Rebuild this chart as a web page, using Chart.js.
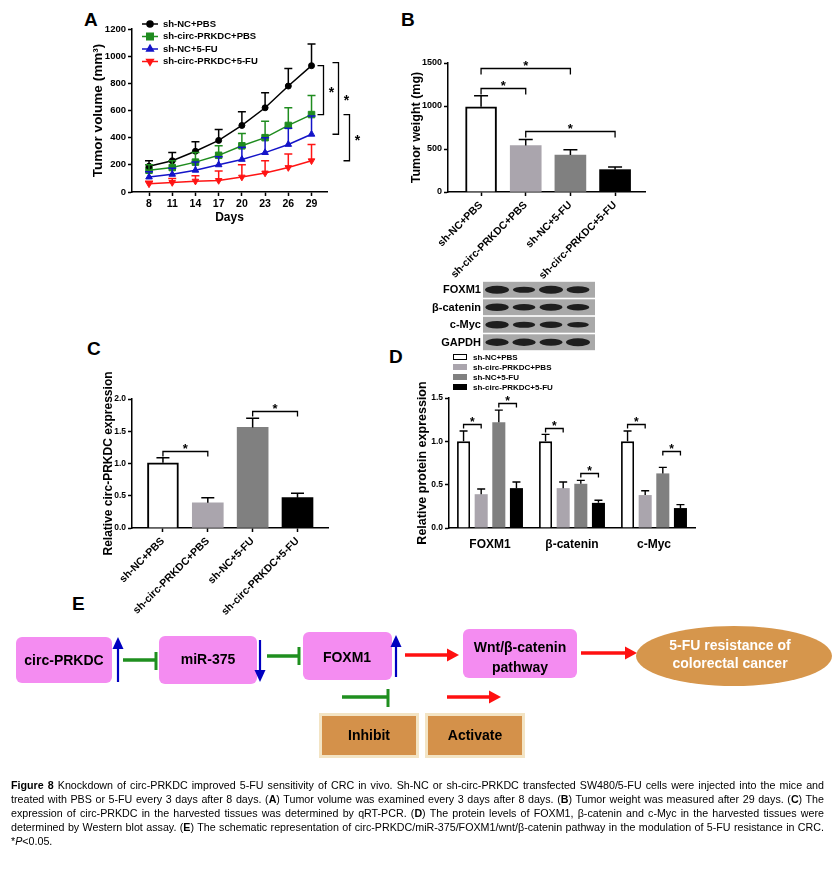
<!DOCTYPE html>
<html><head><meta charset="utf-8">
<script src="https://cdn.jsdelivr.net/npm/chart.js@4.4.1/dist/chart.umd.min.js"></script>
<style>
html,body{margin:0;padding:0;background:#fff}
body{width:833px;height:880px;position:relative;overflow:hidden;font-family:"Liberation Sans",Arial,Helvetica,sans-serif;color:#000}
.box{position:absolute}
.letter{position:absolute;font-weight:bold;font-size:19px;line-height:19px}
.blotlab{position:absolute;right:352px;font-weight:bold;font-size:11px;line-height:12px;text-align:right;white-space:nowrap}
.legD{position:absolute;left:453px;font-weight:bold;font-size:8px;line-height:10px;white-space:nowrap}
.legD .sw{display:inline-block;width:14px;height:6px;vertical-align:middle;margin-right:6px;box-sizing:border-box;position:relative;top:-1px}
#caption{position:absolute;left:11px;top:778px;width:813px;line-height:14px;font-family:"Liberation Sans Narrow","Arial Narrow","Liberation Sans",Arial,sans-serif}
#caption div{text-align:justify;text-align-last:justify}
</style></head>
<body>
<div class="letter" style="left:84px;top:10px">A</div>
<div class="letter" style="left:401px;top:10px">B</div>
<div class="letter" style="left:87px;top:339px">C</div>
<div class="letter" style="left:389px;top:347px">D</div>
<div class="letter" style="left:72px;top:594px">E</div>

<div class="box" style="left:90px;top:0;width:290px;height:232px"><canvas id="cA"></canvas></div>
<div class="box" style="left:409px;top:40px;width:260px;height:245px"><canvas id="cB"></canvas></div>
<div class="box" style="left:101px;top:360px;width:250px;height:260px"><canvas id="cC"></canvas></div>
<div class="box" style="left:415px;top:375px;width:300px;height:180px"><canvas id="cD"></canvas></div>
<div class="box" style="left:483px;top:281px;width:112px;height:70px"><canvas id="cBlot"></canvas></div>

<div class="blotlab" style="top:283px">FOXM1</div>
<div class="blotlab" style="top:301px">β-catenin</div>
<div class="blotlab" style="top:318px">c-Myc</div>
<div class="blotlab" style="top:336px">GAPDH</div>

<div id="legendD"></div>

<svg class="box" style="left:0;top:590px" width="833" height="180" viewBox="0 0 833 180" font-family="Liberation Sans, Arial, Helvetica, sans-serif" font-weight="bold" font-size="14">
  <rect x="16" y="47" width="96" height="46" rx="6" fill="#f48cf1"/>
  <text x="64" y="70" text-anchor="middle" dominant-baseline="central">circ-PRKDC</text>
  <line x1="118" y1="57" x2="118" y2="92" stroke="#0000c0" stroke-width="2.2"/>
  <polygon points="118,47 112.5,59 123.5,59" fill="#0000c0"/>
  <line x1="123" y1="70" x2="156" y2="70" stroke="#1f8f1f" stroke-width="3.5"/>
  <line x1="156" y1="62" x2="156" y2="80" stroke="#1f8f1f" stroke-width="3"/>

  <rect x="159" y="46" width="98" height="48" rx="6" fill="#f48cf1"/>
  <text x="208" y="69" text-anchor="middle" dominant-baseline="central">miR-375</text>
  <line x1="260" y1="50" x2="260" y2="82" stroke="#0000c0" stroke-width="2.2"/>
  <polygon points="260,92 254.5,80 265.5,80" fill="#0000c0"/>
  <line x1="267" y1="66" x2="299" y2="66" stroke="#1f8f1f" stroke-width="3.5"/>
  <line x1="299" y1="57" x2="299" y2="75" stroke="#1f8f1f" stroke-width="3"/>

  <rect x="303" y="42" width="89" height="48" rx="6" fill="#f48cf1"/>
  <text x="347" y="67" text-anchor="middle" dominant-baseline="central">FOXM1</text>
  <line x1="396" y1="55" x2="396" y2="87" stroke="#0000c0" stroke-width="2.2"/>
  <polygon points="396,45 390.5,57 401.5,57" fill="#0000c0"/>
  <line x1="405" y1="65" x2="449" y2="65" stroke="#ff1010" stroke-width="3.5"/>
  <polygon points="459,65 447,58.5 447,71.5" fill="#ff1010"/>

  <rect x="463" y="39" width="114" height="49" rx="6" fill="#f48cf1"/>
  <text x="520" y="57" text-anchor="middle" dominant-baseline="central">Wnt/β-catenin</text>
  <text x="520" y="77" text-anchor="middle" dominant-baseline="central">pathway</text>
  <line x1="581" y1="63" x2="627" y2="63" stroke="#ff1010" stroke-width="3.5"/>
  <polygon points="637,63 625,56.5 625,69.5" fill="#ff1010"/>

  <ellipse cx="734" cy="66" rx="98" ry="30" fill="#d6964c"/>
  <text x="730" y="55" text-anchor="middle" dominant-baseline="central" fill="#fff">5-FU resistance of</text>
  <text x="730" y="73" text-anchor="middle" dominant-baseline="central" fill="#fff">colorectal cancer</text>

  <line x1="342" y1="107" x2="388" y2="107" stroke="#1f8f1f" stroke-width="3.5"/>
  <line x1="388" y1="99" x2="388" y2="117" stroke="#1f8f1f" stroke-width="3"/>
  <line x1="447" y1="107" x2="491" y2="107" stroke="#ff1010" stroke-width="3.5"/>
  <polygon points="501,107 489,100.5 489,113.5" fill="#ff1010"/>

  <rect x="320.5" y="124.5" width="97" height="42" fill="#d4914a" stroke="#f3e4c4" stroke-width="3"/>
  <text x="369" y="145" text-anchor="middle" dominant-baseline="central">Inhibit</text>
  <rect x="426.5" y="124.5" width="97" height="42" fill="#d4914a" stroke="#f3e4c4" stroke-width="3"/>
  <text x="475" y="145" text-anchor="middle" dominant-baseline="central">Activate</text>
</svg>

<div id="caption">
<div><b>Figure 8</b> Knockdown of circ-PRKDC improved 5-FU sensitivity of CRC in vivo. Sh-NC or sh-circ-PRKDC transfected SW480/5-FU cells were injected into the mice and</div>
<div>treated with PBS or 5-FU every 3 days after 8 days. (<b>A</b>) Tumor volume was examined every 3 days after 8 days. (<b>B</b>) Tumor weight was measured after 29 days. (<b>C</b>) The</div>
<div>expression of circ-PRKDC in the harvested tissues was determined by qRT-PCR. (<b>D</b>) The protein levels of FOXM1, β-catenin and c-Myc in the harvested tissues were</div>
<div>determined by Western blot assay. (<b>E</b>) The schematic representation of circ-PRKDC/miR-375/FOXM1/wnt/β-catenin pathway in the modulation of 5-FU resistance in CRC.</div>
<span>*<i>P</i>&lt;0.05.</span>
</div>

<script>
// ---------- DATA ----------
const days = [8, 11, 14, 17, 20, 23, 26, 29];
const groups = ['sh-NC+PBS', 'sh-circ-PRKDC+PBS', 'sh-NC+5-FU', 'sh-circ-PRKDC+5-FU'];

const volNCPBS      = [190, 230, 300, 380, 490, 620, 780, 930];
const volNCPBSErr   = [40, 60, 70, 80, 100, 110, 130, 160];
const volCircPBS    = [160, 180, 220, 270, 340, 400, 490, 570];
const volCircPBSErr = [40, 50, 70, 70, 90, 120, 130, 140];
const volNCFU       = [110, 130, 160, 200, 240, 290, 350, 425];
const volNCFUErr    = [40, 45, 60, 60, 90, 110, 120, 135];
const volCircFU     = [60, 70, 80, 85, 110, 140, 180, 230];
const volCircFUErr  = [20, 30, 40, 70, 90, 90, 100, 120];
const sigA = [[0, 1], [0, 2], [1, 3]];

const weight    = [990, 540, 430, 260];
const weightErr = [130, 70, 60, 30];
const sigB = [[0, 1, 1210], [0, 2, 1440], [1, 3, 710]];

const circExpr    = [1.01, 0.39, 1.56, 0.47];
const circExprErr = [0.08, 0.08, 0.14, 0.07];
const sigC = [[0, 1, 1.19], [2, 3, 1.81]];

const proteins = ['FOXM1', 'β-catenin', 'c-Myc'];
const protNCPBS      = [1.00, 1.00, 1.00];
const protNCPBSErr   = [0.12, 0.08, 0.12];
const protCircPBS    = [0.39, 0.46, 0.38];
const protCircPBSErr = [0.06, 0.07, 0.05];
const protNCFU       = [1.22, 0.51, 0.63];
const protNCFUErr    = [0.14, 0.04, 0.07];
const protCircFU     = [0.46, 0.29, 0.23];
const protCircFUErr  = [0.07, 0.03, 0.04];
const sigD = [[0, 0, 1, 1.20], [0, 2, 3, 1.44], [1, 0, 1, 1.15], [1, 2, 3, 0.64], [2, 0, 1, 1.20], [2, 2, 3, 0.89]];

const blotRows  = ['FOXM1', 'β-catenin', 'c-Myc', 'GAPDH'];
const blotFOXM1 = [1.0, 0.55, 1.0, 0.75];
const blotBcat  = [0.9, 0.7, 0.75, 0.65];
const blotMyc   = [0.9, 0.6, 0.7, 0.45];
const blotGAPDH = [0.85, 0.85, 0.8, 1.0];

// ---------- STYLE ----------
const FONT = '"Liberation Sans", Arial, Helvetica, sans-serif';
Chart.defaults.font.family = FONT;
Chart.defaults.color = '#000';
const f = (size, weight = 'bold') => ({ family: FONT, size, weight });
const gridStyle = () => ({ drawOnChartArea: false, drawTicks: true, tickLength: 4, tickColor: '#000', tickWidth: 1.5, color: '#000', offset: false });
const borderStyle = () => ({ color: '#000', width: 1.5 });
const barFill = ['#ffffff', '#aaa5ad', '#808080', '#000000'];
const plain = v => String(v);

function errorBars(errs, colors, capHalf, lw) {
  return { id: 'errbars', afterDatasetsDraw(chart) {
    const ctx = chart.ctx, ys = chart.scales.y;
    chart.data.datasets.forEach((ds, di) => {
      const meta = chart.getDatasetMeta(di);
      ctx.save(); ctx.strokeStyle = colors[di]; ctx.lineWidth = lw;
      meta.data.forEach((el, i) => {
        const v = ds.data[i]; const yv = (typeof v === 'object') ? v.y : v;
        const y0 = ys.getPixelForValue(yv), y1 = ys.getPixelForValue(yv + errs[di][i]);
        ctx.beginPath();
        ctx.moveTo(el.x, y0); ctx.lineTo(el.x, y1);
        ctx.moveTo(el.x - capHalf, y1); ctx.lineTo(el.x + capHalf, y1);
        ctx.stroke();
      });
      ctx.restore();
    });
  } };
}
function brackets(list, tick, starSize) {
  return { id: 'brackets', afterDatasetsDraw(chart) {
    const ctx = chart.ctx, ys = chart.scales.y;
    ctx.save(); ctx.strokeStyle = '#000'; ctx.lineWidth = 1.3; ctx.fillStyle = '#000';
    ctx.font = 'bold ' + starSize + 'px ' + FONT; ctx.textAlign = 'center'; ctx.textBaseline = 'alphabetic';
    list.forEach(b => {
      const xa = chart.getDatasetMeta(b.a[0]).data[b.a[1]].x;
      const xb = chart.getDatasetMeta(b.b[0]).data[b.b[1]].x;
      const y = Math.round(ys.getPixelForValue(b.y)) + 0.5;
      ctx.beginPath(); ctx.moveTo(xa, y + tick); ctx.lineTo(xa, y); ctx.lineTo(xb, y); ctx.lineTo(xb, y + tick); ctx.stroke();
      ctx.fillText('*', (xa + xb) / 2, y + starSize * 0.1);
    });
    ctx.restore();
  } };
}

// ---------- A ----------
const seriesA = [volNCPBS, volCircPBS, volNCFU, volCircFU];
const errA = [volNCPBSErr, volCircPBSErr, volNCFUErr, volCircFUErr];
const colA = ['#000000', '#1f8c1f', '#1414c8', '#ff1414'];
const styleA = ['circle', 'rect', 'triangle', 'triangle'];
const rotA = [0, 0, 0, 180];
const radA = [3, 4.6, 3.8, 3.8];
const legendA = { id: 'legA', afterDraw(chart) {
  const ctx = chart.ctx; const ys = [24, 36.5, 49, 61.5];
  chart.data.datasets.forEach((ds, i) => {
    ctx.save();
    ctx.strokeStyle = colA[i]; ctx.fillStyle = colA[i]; ctx.lineWidth = 1.5;
    ctx.beginPath(); ctx.moveTo(52, ys[i]); ctx.lineTo(68, ys[i]); ctx.stroke();
    Chart.helpers.drawPoint(ctx, { pointStyle: styleA[i], rotation: rotA[i], radius: radA[i], borderWidth: 1 }, 60, ys[i]);
    ctx.fillStyle = '#000'; ctx.font = 'bold 9.5px ' + FONT; ctx.textBaseline = 'middle'; ctx.textAlign = 'left';
    ctx.fillText(ds.label, 73, ys[i]);
    ctx.restore();
  });
} };
const lanesA = [-4, 11, 22];
const sigPluginA = { id: 'sigA', afterDraw(chart) {
  const ctx = chart.ctx, ys = chart.scales.y, right = chart.chartArea.right, last = days.length - 1;
  ctx.save(); ctx.strokeStyle = '#000'; ctx.lineWidth = 1.3; ctx.fillStyle = '#000';
  ctx.font = 'bold 14px ' + FONT; ctx.textAlign = 'center';
  sigA.forEach(([a, b], k) => {
    const x = Math.round(right + lanesA[k]) + 0.5;
    const y1 = ys.getPixelForValue(seriesA[a][last]) - (k === 1 ? 3 : 0);
    const y2 = ys.getPixelForValue(seriesA[b][last]);
    ctx.beginPath(); ctx.moveTo(x - 6, y1); ctx.lineTo(x, y1); ctx.lineTo(x, y2); ctx.lineTo(x - 6, y2); ctx.stroke();
    ctx.fillText('*', x + 8, (y1 + y2) / 2 + 7);
  });
  ctx.restore();
} };
new Chart(document.getElementById('cA'), {
  type: 'line',
  data: { datasets: seriesA.map((s, i) => ({
    label: groups[i], data: days.map((d, j) => ({ x: d, y: s[j] })),
    borderColor: colA[i], backgroundColor: colA[i], borderWidth: 1.5,
    pointStyle: styleA[i], pointRotation: rotA[i], pointRadius: radA[i], pointBorderWidth: 1, tension: 0
  })) },
  options: {
    responsive: true, maintainAspectRatio: false, animation: false,
    layout: { padding: { top: 29, right: 53, left: 0, bottom: 0 } },
    plugins: { legend: { display: false }, tooltip: { enabled: false } },
    scales: {
      x: { type: 'linear', min: 5.8, max: 31, border: borderStyle(), grid: gridStyle(),
        afterBuildTicks: s => { s.ticks = days.map(v => ({ value: v })); },
        afterFit: s => { s.height = 40; },
        ticks: { font: f(10.5), color: '#000', padding: 2, autoSkip: false, maxRotation: 0, callback: plain },
        title: { display: true, text: 'Days', font: f(12), color: '#000', padding: { top: 0, bottom: 7 } } },
      y: { min: 0, max: 1200, border: borderStyle(), grid: gridStyle(),
        afterFit: s => { s.width = 42; },
        ticks: { stepSize: 200, font: f(9.5), color: '#000', padding: 2, callback: plain },
        title: { display: true, text: 'Tumor volume (mm³)', font: f(13.5), color: '#000', padding: 0 } }
    }
  },
  plugins: [errorBars(errA, colA, 4, 1.5), legendA, sigPluginA]
});

// ---------- B ----------
new Chart(document.getElementById('cB'), {
  type: 'bar',
  data: { datasets: [{ data: groups.map((g, i) => ({ x: i, y: weight[i] })),
    backgroundColor: barFill, borderColor: '#000', borderWidth: [2, 0, 0, 0], barThickness: 31, borderSkipped: 'bottom' }] },
  options: {
    responsive: true, maintainAspectRatio: false, animation: false,
    layout: { padding: { top: 23, right: 24, left: 0, bottom: 0 } },
    plugins: { legend: { display: false }, tooltip: { enabled: false } },
    scales: {
      x: { type: 'linear', min: -0.74, max: 3.67, offset: false, border: borderStyle(), grid: gridStyle(),
        afterBuildTicks: s => { s.ticks = groups.map((g, i) => ({ value: i })); },
        afterFit: s => { s.height = 93; },
        ticks: { callback: v => groups[v], minRotation: 45, maxRotation: 45, autoSkip: false, font: f(10.5), color: '#000', padding: 3 } },
      y: { min: 0, max: 1500, border: borderStyle(), grid: gridStyle(),
        afterFit: s => { s.width = 39; },
        ticks: { stepSize: 500, font: f(9), color: '#000', padding: 2, callback: plain },
        title: { display: true, text: 'Tumor weight (mg)', font: f(12.5), color: '#000', padding: 0 } }
    }
  },
  plugins: [errorBars([weightErr], ['#000'], 7, 1.5), brackets(sigB.map(s => ({ a: [0, s[0]], b: [0, s[1]], y: s[2] })), 6, 13)]
});

// ---------- C ----------
new Chart(document.getElementById('cC'), {
  type: 'bar',
  data: { datasets: [{ data: groups.map((g, i) => ({ x: i, y: circExpr[i] })),
    backgroundColor: barFill, borderColor: '#000', borderWidth: [2, 0, 0, 0], barThickness: 31, borderSkipped: 'bottom' }] },
  options: {
    responsive: true, maintainAspectRatio: false, animation: false,
    layout: { padding: { top: 39, right: 23, left: 0, bottom: 0 } },
    plugins: { legend: { display: false }, tooltip: { enabled: false } },
    scales: {
      x: { type: 'linear', min: -0.69, max: 3.68, offset: false, border: borderStyle(), grid: gridStyle(),
        afterBuildTicks: s => { s.ticks = groups.map((g, i) => ({ value: i })); },
        afterFit: s => { s.height = 92; },
        ticks: { callback: v => groups[v], minRotation: 45, maxRotation: 45, autoSkip: false, font: f(10.5), color: '#000', padding: 3 } },
      y: { min: 0, max: 2.0, border: borderStyle(), grid: gridStyle(),
        afterFit: s => { s.width = 31; },
        ticks: { stepSize: 0.5, font: f(8.5), color: '#000', padding: 2, callback: v => v.toFixed(1) },
        title: { display: true, text: 'Relative circ-PRKDC expression', font: f(12), color: '#000', padding: 0 } }
    }
  },
  plugins: [errorBars([circExprErr], ['#000'], 6.5, 1.5), brackets(sigC.map(s => ({ a: [0, s[0]], b: [0, s[1]], y: s[2] })), 5, 13)]
});

// ---------- D ----------
const protSeries = [protNCPBS, protCircPBS, protNCFU, protCircFU];
const protErr = [protNCPBSErr, protCircPBSErr, protNCFUErr, protCircFUErr];
new Chart(document.getElementById('cD'), {
  type: 'bar',
  data: { labels: proteins, datasets: protSeries.map((s, i) => ({
    label: groups[i], data: s, backgroundColor: barFill[i], borderColor: '#000', borderWidth: i === 0 ? 1.8 : 0,
    borderSkipped: 'bottom', categoryPercentage: 0.86, barPercentage: 0.74 })) },
  options: {
    responsive: true, maintainAspectRatio: false, animation: false,
    layout: { padding: { top: 23, right: 20, left: 0, bottom: 0 } },
    plugins: { legend: { display: false }, tooltip: { enabled: false } },
    scales: {
      x: { border: borderStyle(), grid: { display: false },
        afterFit: s => { s.height = 27; },
        ticks: { font: f(12), color: '#000', padding: 1 } },
      y: { min: 0, max: 1.5, border: borderStyle(), grid: gridStyle(),
        afterFit: s => { s.width = 34; },
        ticks: { stepSize: 0.5, font: f(8.5), color: '#000', padding: 2, callback: v => v.toFixed(1) },
        title: { display: true, text: 'Relative protein expression', font: f(12.5), color: '#000', padding: 0 } }
    }
  },
  plugins: [errorBars(protErr, ['#000', '#000', '#000', '#000'], 4, 1.4),
    brackets(sigD.map(s => ({ a: [s[1], s[0]], b: [s[2], s[0]], y: s[3] })), 4, 12)]
});
// legend D (HTML)
const legD = document.getElementById('legendD');
groups.forEach((g, i) => {
  const d = document.createElement('div'); d.className = 'legD'; d.style.top = (353 + i * 10) + 'px';
  const sw = document.createElement('span'); sw.className = 'sw'; sw.style.background = barFill[i];
  if (i === 0) sw.style.border = '1.5px solid #000';
  d.appendChild(sw); d.appendChild(document.createTextNode(g)); legD.appendChild(d);
});

// ---------- Western blot ----------
const blotBands = [blotFOXM1, blotBcat, blotMyc, blotGAPDH];
const blotPlugin = { id: 'blot', beforeDatasetsDraw(chart) {
  const ctx = chart.ctx, xs = chart.scales.x, ys = chart.scales.y;
  ctx.save();
  blotRows.forEach((r, ri) => {
    const top = ys.getPixelForValue(ri - 0.5) + 0.8, bot = ys.getPixelForValue(ri + 0.5) - 0.8;
    ctx.fillStyle = '#a9a9a9'; ctx.fillRect(0, top, chart.width, bot - top);
    blotBands[ri].forEach((v, li) => {
      const cx = xs.getPixelForValue(li), cy = ys.getPixelForValue(ri);
      ctx.filter = 'blur(0.7px)';
      ctx.fillStyle = '#1e1e1e';
      ctx.beginPath(); ctx.ellipse(cx, cy, 10 + 2 * v, 1.8 + 2.2 * v, 0, 0, Math.PI * 2); ctx.fill();
      ctx.filter = 'none';
    });
  });
  ctx.restore();
} };
new Chart(document.getElementById('cBlot'), {
  type: 'scatter',
  data: { datasets: blotRows.map((r, ri) => ({ data: blotBands[ri].map((v, li) => ({ x: li, y: ri })), pointRadius: 0 })) },
  options: { responsive: true, maintainAspectRatio: false, animation: false, layout: { padding: 0 },
    plugins: { legend: { display: false }, tooltip: { enabled: false } },
    scales: { x: { type: 'linear', min: -0.52, max: 3.63, display: false }, y: { type: 'linear', min: -0.5, max: 3.5, reverse: true, display: false } } },
  plugins: [blotPlugin]
});

// ---------- caption fit ----------
(function () {
  const lines = Array.from(document.querySelectorAll('#caption div'));
  let fs = 11.5;
  const cap = document.getElementById('caption');
  cap.style.fontSize = fs + 'px';
  const widest = () => Math.max(...lines.map(d => { d.style.display = 'inline-block'; d.style.whiteSpace = 'nowrap'; return d.getBoundingClientRect().width; }));
  while (widest() > 808 && fs > 7) { fs -= 0.1; cap.style.fontSize = fs + 'px'; }
  lines.forEach(d => { d.style.display = 'block'; d.style.whiteSpace = 'normal'; });
})();
</script>
</body></html>
